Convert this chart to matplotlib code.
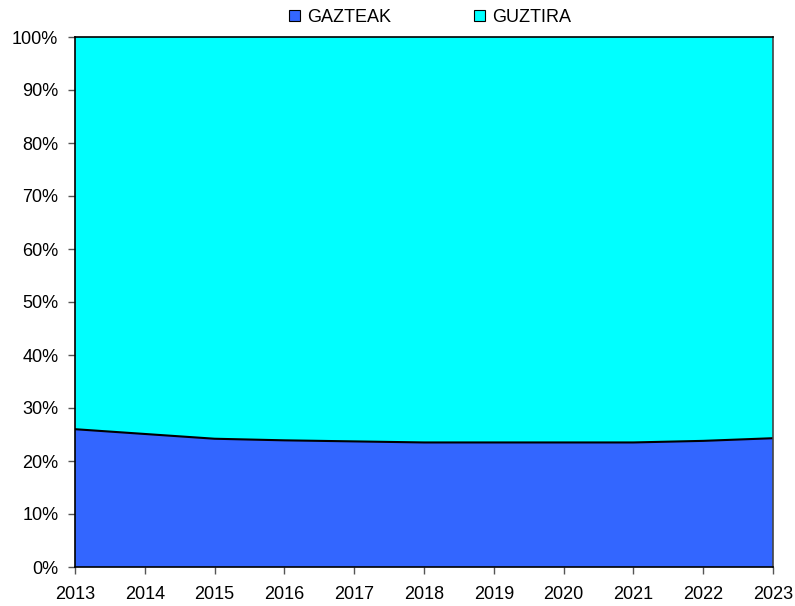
import matplotlib.pyplot as plt
from matplotlib.patches import Patch
from matplotlib.ticker import FuncFormatter

plt.rcParams['font.family'] = ['Liberation Sans', 'DejaVu Sans']

years = [2013, 2014, 2015, 2016, 2017, 2018, 2019, 2020, 2021, 2022, 2023]
# share of young people (GAZTEAK) in the total, %
gazteak = [26.0, 25.1, 24.2, 23.9, 23.7, 23.5, 23.5, 23.5, 23.5, 23.8, 24.3]
guztira = [100 - v for v in gazteak]

c_blue = '#3366FF'
c_cyan = '#00FFFF'

fig = plt.figure(figsize=(7.95, 6.06), dpi=100)
ax = fig.add_axes([75 / 795, 39 / 606, 698 / 795, 530 / 606])

ax.stackplot(years, gazteak, guztira, colors=[c_blue, c_cyan], linewidth=0)
ax.plot(years, gazteak, color='black', lw=1.5)

ax.set_xlim(2013, 2023)
ax.set_ylim(0, 100)
ax.set_xticks(years)
ax.set_yticks(range(0, 101, 10))
ax.yaxis.set_major_formatter(FuncFormatter(lambda v, p: f'{v:.0f}%'))
ax.tick_params(labelsize=13, length=5, width=1, color='#555555')
ax.tick_params(axis='y', pad=7)
ax.tick_params(axis='x', pad=9)
for s in ax.spines.values():
    s.set_linewidth(1.2)
ax.spines['right'].set_color('#444444')

handles = [Patch(facecolor=c_blue, edgecolor='black', lw=0.8, label='GAZTEAK'),
           Patch(facecolor=c_cyan, edgecolor='black', lw=0.8, label='GUZTIRA')]
fig.legend(handles=handles, loc='upper center', bbox_to_anchor=(0.541, 1.012), ncol=2,
           frameon=False, fontsize=13, handlelength=0.6, handleheight=0.6,
           handletextpad=0.4, columnspacing=4.6)

fig.savefig('out.png', dpi=100)
